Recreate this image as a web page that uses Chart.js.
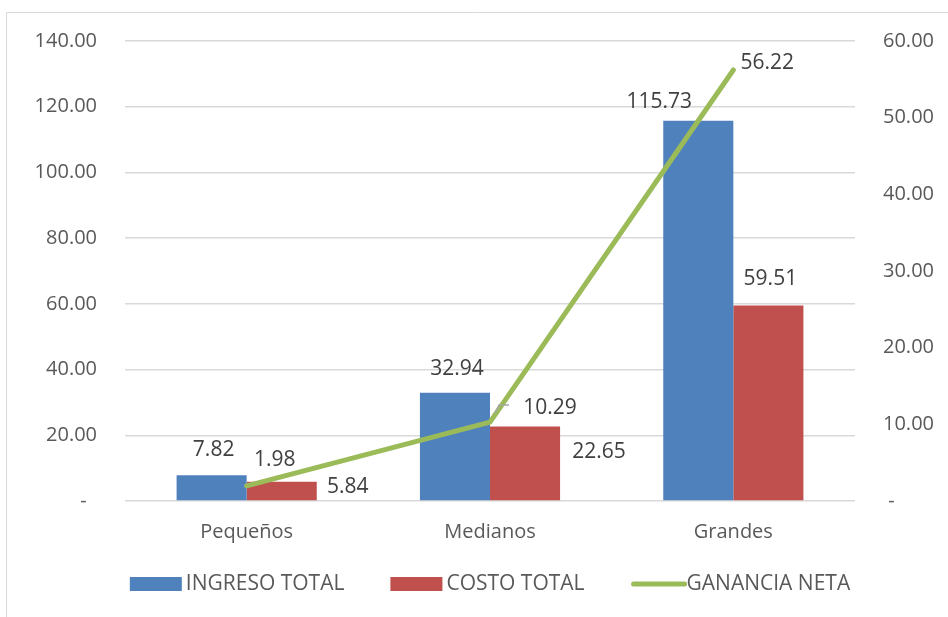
<!DOCTYPE html>
<html>
<head>
<meta charset="utf-8">
<script src="https://cdn.jsdelivr.net/npm/chart.js@4/dist/chart.umd.min.js"></script>
<style>
  html, body { margin: 0; padding: 0; background: #fff; }
  #wrap { width: 948px; height: 617px; position: relative; }
</style>
</head>
<body>
<div id="wrap"><canvas id="c" width="948" height="617"></canvas></div>
<script>
// Categories and series
const categorias = ['Pequeños', 'Medianos', 'Grandes'];
const ingresoTotal = [7.82, 32.94, 115.73];
const costoTotal = [5.84, 22.65, 59.51];
const gananciaNeta = [1.98, 10.29, 56.22];

const seriesNames = ['INGRESO TOTAL', 'COSTO TOTAL', 'GANANCIA NETA'];
const colors = ['#4F81BD', '#C0504D', '#9BBB59'];

// Label offsets (px) from each mark's anchor point, per dataset and category
const labelOffsets = [
  [[2, -25], [2, -24], [-39, -19]],
  [[66, 5], [74, 25], [2, -26]],
  [[28, -26], [60, -14], [34, -7]]
];

const FONT = '"Open Sans", "Liberation Sans", sans-serif';
const fmt = v => v.toFixed(2);

const framePlugin = {
  id: 'frame',
  beforeDraw(chart) {
    const ctx = chart.ctx;
    ctx.save();
    ctx.fillStyle = '#fff';
    ctx.fillRect(0, 0, chart.width, chart.height);
    ctx.strokeStyle = '#d9d9d9';
    ctx.lineWidth = 1;
    ctx.beginPath();
    ctx.moveTo(6.5, chart.height);
    ctx.lineTo(6.5, 12.5);
    ctx.lineTo(chart.width, 12.5);
    ctx.stroke();
    ctx.restore();
  }
};

const labelPlugin = {
  id: 'valueLabels',
  afterDatasetsDraw(chart) {
    const ctx = chart.ctx;
    ctx.save();
    ctx.font = '21px ' + FONT;
    ctx.fillStyle = '#404040';
    ctx.textAlign = 'center';
    ctx.textBaseline = 'middle';
    chart.data.datasets.forEach((ds, di) => {
      const meta = chart.getDatasetMeta(di);
      meta.data.forEach((el, i) => {
        const off = labelOffsets[di][i];
        ctx.fillText(fmt(ds.data[i]), el.x + off[0], el.y + off[1]);
      });
    });
    // leader line for the middle net-profit label
    const p = chart.getDatasetMeta(2).data[1];
    ctx.strokeStyle = '#a6a6a6';
    ctx.lineWidth = 1.5;
    ctx.beginPath();
    ctx.moveTo(p.x + 5, p.y - 9);
    ctx.lineTo(p.x + 9, p.y - 17);
    ctx.lineTo(p.x + 19, p.y - 17);
    ctx.stroke();
    ctx.restore();
  }
};

const legendPlugin = {
  id: 'bottomLegend',
  afterDraw(chart) {
    const ctx = chart.ctx;
    const area = chart.chartArea;
    ctx.save();
    ctx.font = '21px ' + FONT;
    const boxW = 52, gap = 4, sep = 46, y = 584;
    const widths = seriesNames.map(n => ctx.measureText(n).width);
    const total = widths.reduce((a, w) => a + boxW + gap + w, 0) + sep * (seriesNames.length - 1);
    let x = (area.left + area.right) / 2 - total / 2;
    seriesNames.forEach((name, i) => {
      if (i < 2) {
        ctx.fillStyle = colors[i];
        ctx.fillRect(x, y - 7, boxW, 14);
      } else {
        ctx.strokeStyle = colors[i];
        ctx.lineWidth = 5;
        ctx.lineCap = 'round';
        ctx.beginPath();
        ctx.moveTo(x + 3, y);
        ctx.lineTo(x + boxW + 2, y);
        ctx.stroke();
      }
      ctx.fillStyle = '#595959';
      ctx.textAlign = 'left';
      ctx.textBaseline = 'middle';
      ctx.fillText(name, x + boxW + gap, y);
      x += boxW + gap + widths[i] + sep;
    });
    ctx.restore();
  }
};

new Chart(document.getElementById('c'), {
  data: {
    labels: categorias,
    datasets: [
      {
        type: 'bar', label: seriesNames[0], data: ingresoTotal,
        backgroundColor: colors[0], yAxisID: 'y', order: 2,
        categoryPercentage: 0.576, barPercentage: 1.0
      },
      {
        type: 'bar', label: seriesNames[1], data: costoTotal,
        backgroundColor: colors[1], yAxisID: 'y', order: 2,
        categoryPercentage: 0.576, barPercentage: 1.0
      },
      {
        type: 'line', label: seriesNames[2], data: gananciaNeta,
        borderColor: colors[2], borderWidth: 5, borderCapStyle: 'round',
        borderJoinStyle: 'round', pointRadius: 0, tension: 0,
        yAxisID: 'y1', order: 0
      }
    ]
  },
  options: {
    responsive: false,
    animation: false,
    layout: { padding: { top: 41, left: 0, right: 0, bottom: 0 } },
    plugins: { legend: { display: false }, tooltip: { enabled: false } },
    scales: {
      x: {
        grid: { display: false },
        border: { display: false },
        ticks: { color: '#595959', font: { family: FONT, size: 20 }, padding: 11 },
        afterFit(s) { s.height = 116; }
      },
      y: {
        position: 'left', min: 0, max: 140,
        grid: { color: '#d9d9d9', lineWidth: 1.5, drawTicks: false },
        border: { display: false },
        ticks: {
          stepSize: 20, padding: 28, color: '#595959',
          font: { family: FONT, size: 20 },
          callback: v => v === 0 ? '-  ' : fmt(v)
        },
        afterFit(s) { s.width = 125; }
      },
      y1: {
        position: 'right', min: 0, max: 60,
        grid: { display: false, drawTicks: false },
        border: { display: false },
        ticks: {
          stepSize: 10, padding: 28, color: '#595959',
          font: { family: FONT, size: 20 },
          callback: v => v === 0 ? ' -' : fmt(v)
        },
        afterFit(s) { s.width = 93; }
      }
    }
  },
  plugins: [framePlugin, labelPlugin, legendPlugin]
});
</script>
</body>
</html>
